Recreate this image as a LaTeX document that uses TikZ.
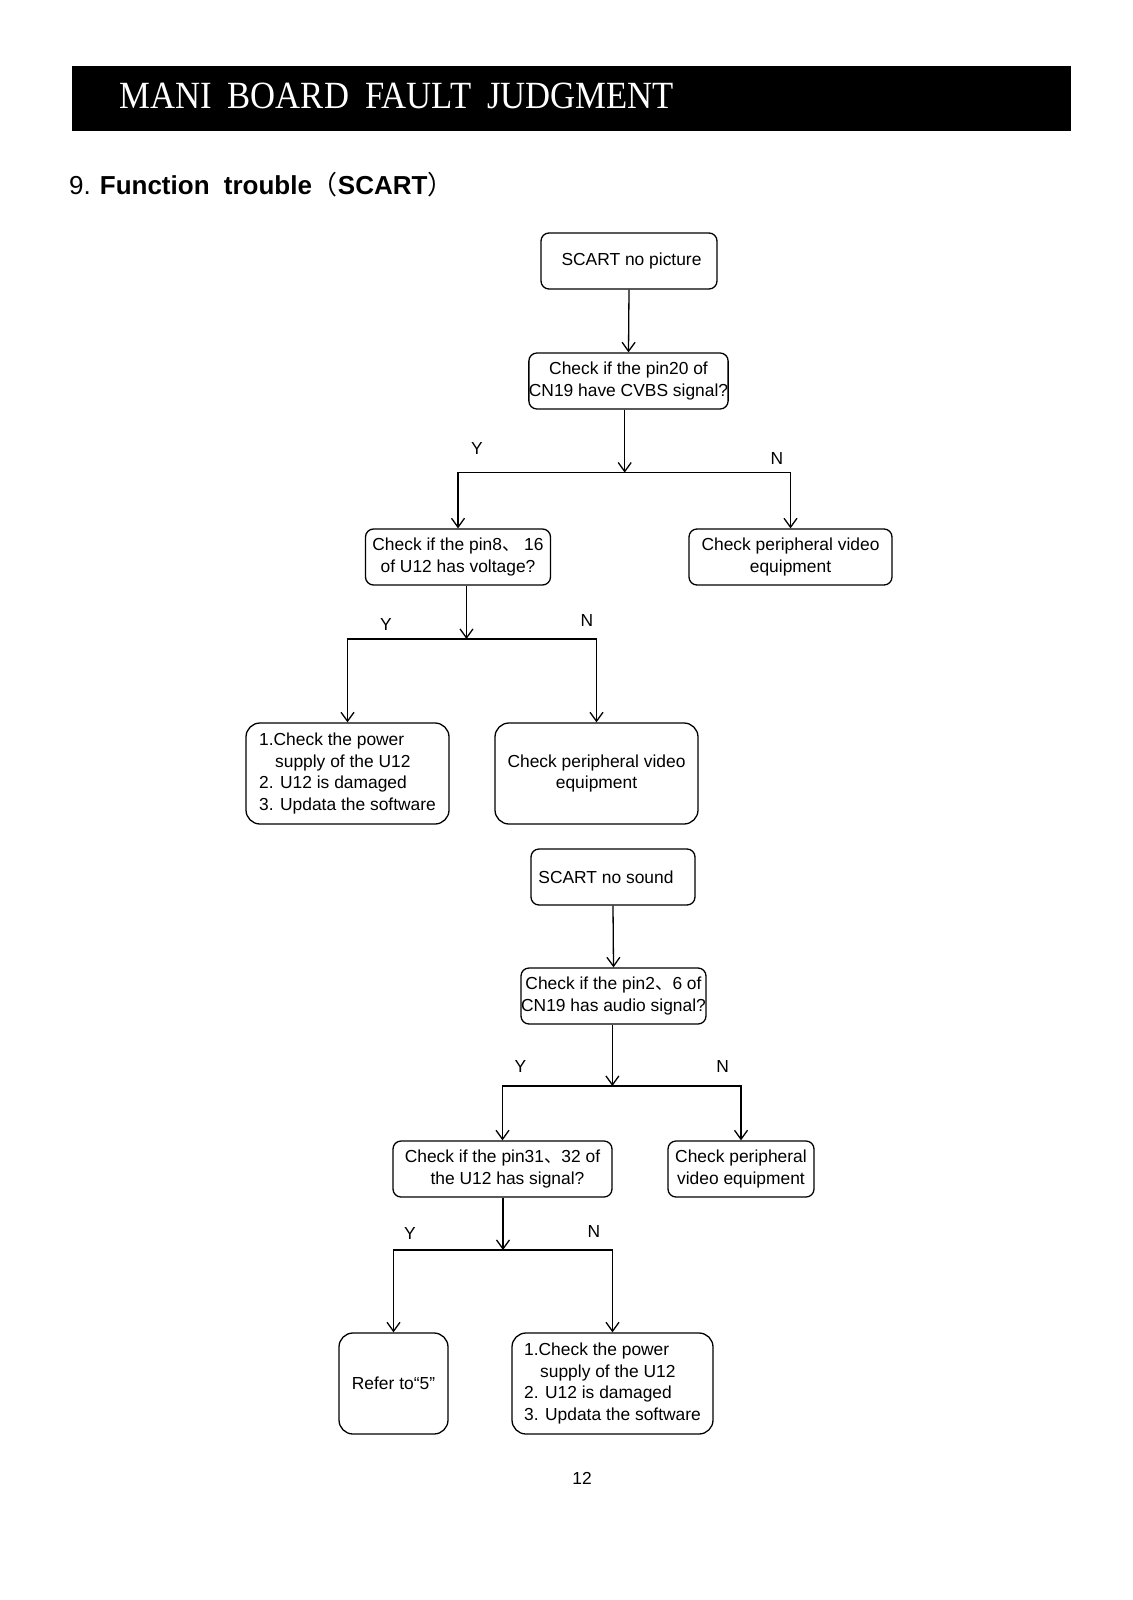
\documentclass[tikz,border=0pt]{standalone}
\usepackage{fontspec}
\setmainfont{Liberation Sans}
\newfontfamily\barserif{Liberation Serif}
\newfontfamily\cjk{Noto Sans CJK SC}
\usetikzlibrary{arrows.meta}
\newcommand\bxfont{\fontsize{17.4}{21.5}\selectfont}
\begin{document}
\begin{tikzpicture}[x=1pt,y=-1pt,
  box/.style={draw, line width=1.3pt, rounded corners=8pt, align=center, inner sep=0pt, font=\bxfont},
  bigbox/.style={box, rounded corners=14pt},
  lbl/.style={font=\bxfont, inner sep=0pt},
  line/.style={line width=1.3pt},
  arr/.style={line, -{Straight Barb[length=9pt,width=13pt]}}
]
\useasboundingbox (0,0) rectangle (1132,1600);
\fill[white] (0,0) rectangle (1132,1600);
% header
\node[fill=black, minimum width=999.5pt, minimum height=65pt, inner sep=0pt, anchor=north west] (bar) at (71.5,66) {};
\node[anchor=base west, text=white, inner sep=0pt, font=\barserif\fontsize{38.5}{40}\selectfont] (bartitle) at (119,109) {\scalebox{0.9}[1]{MANI\hspace{18pt}BOARD\hspace{18pt}FAULT\hspace{18pt}JUDGMENT}};
\node[anchor=base west, inner sep=0pt, font=\fontsize{26}{30}\selectfont] (title) at (69,194) {9.\hspace{9pt}\textbf{Function\hspace{7pt} trouble{\cjk\mdseries （}SCART{\cjk\mdseries ）}}};
% first chart
\node[box, minimum width=176pt, minimum height=56pt] (b1) at (629,261) {\hspace*{5pt}SCART no picture};
\node[box, minimum width=193pt, minimum height=56pt] (b2) at (628.5,381) {Check if the pin20 of\\CN19 have CVBS signal?};
\node[box, minimum width=185pt, minimum height=56pt] (b3) at (458,557) {Check if the pin8{\cjk 、} 16\\of U12 has voltage?};
\node[box, minimum width=203pt, minimum height=56pt] (b4) at (790.5,557) {Check peripheral video\\equipment};
\node[bigbox, align=left, minimum width=203pt, minimum height=101pt] (b5) at (347.5,773.5) {1.Check the power\\\hspace*{16pt}supply of the U12\\2. U12 is damaged\\3. Updata the software};
\node[bigbox, minimum width=203pt, minimum height=101pt] (b6) at (596.5,773.5) {Check peripheral video\\equipment};
% second chart
\node[box, minimum width=164pt, minimum height=56pt] (b7) at (613,877) {SCART no sound\hspace*{14pt}};
\node[box, minimum width=185pt, minimum height=56pt] (b8) at (613.5,996) {Check if the pin2{\cjk 、}6 of\\CN19 has audio signal?};
\node[box, minimum width=219pt, minimum height=56pt] (b9) at (502.5,1169) {Check if the pin31{\cjk 、}32 of\\\hspace*{10pt}the U12 has signal?};
\node[box, minimum width=146pt, minimum height=56pt] (b10) at (741,1169) {Check peripheral\\video equipment};
\node[bigbox, minimum width=109pt, minimum height=101pt] (b11) at (393.5,1383.5) {Refer to“5”};
\node[bigbox, align=left, minimum width=201pt, minimum height=101pt] (b12) at (612.5,1383.5) {1.Check the power\\\hspace*{16pt}supply of the U12\\2. U12 is damaged\\3. Updata the software};
% junctions
\coordinate (j1) at (624.7,472.6);
\coordinate (j2) at (466.5,639);
\coordinate (j3) at (612.4,1086);
\coordinate (j4) at (503,1250);
% connectors
\draw[arr] (b1.south) -- (b2.north);
\draw[arr] (b2.south -| j1) -- (j1);
\draw[arr] (j1) -| (b3.north);
\draw[arr] (j1) -| (b4.north);
\draw[arr] (b3.south -| j2) -- (j2);
\draw[arr] (j2) -| (b5.north);
\draw[arr] (j2) -| (b6.north);
\draw[arr] (b7.south) -- (b8.north);
\draw[arr] (b8.south -| j3) -- (j3);
\draw[arr] (j3) -| (b9.north);
\draw[arr] (j3) -| (b10.north);
\draw[arr] (b9.south -| j4) -- (j4);
\draw[arr] (j4) -| (b11.north);
\draw[arr] (j4) -| (b12.north);
% labels
\node[lbl] (y1) at (477,449) {Y};
\node[lbl] (n1) at (777,459) {N};
\node[lbl] (y2) at (386,625) {Y};
\node[lbl] (n2) at (587,621) {N};
\node[lbl] (y3) at (520.5,1067) {Y};
\node[lbl] (n3) at (722.6,1067) {N};
\node[lbl] (y4) at (410,1233) {Y};
\node[lbl] (n4) at (594,1231) {N};
\node[lbl] (pg) at (582,1478) {12};
\end{tikzpicture}
\end{document}
